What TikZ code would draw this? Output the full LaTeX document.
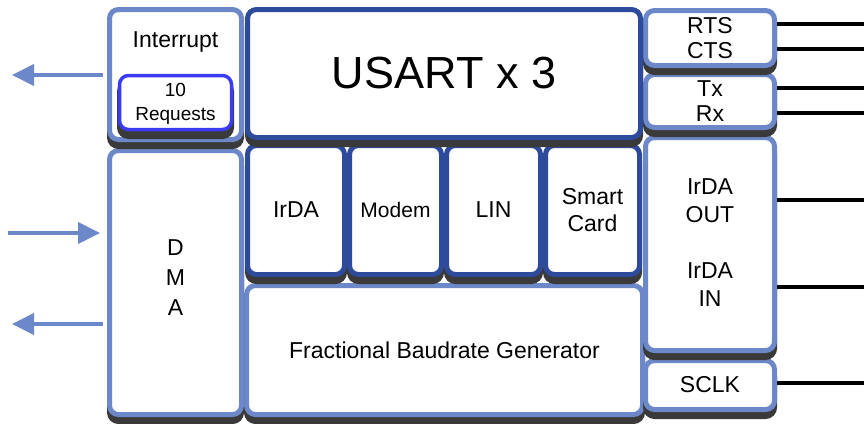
\documentclass[tikz,border=0pt]{standalone}
\usepackage{fontspec}
\setmainfont{Liberation Sans}
\usetikzlibrary{arrows.meta}
\definecolor{lightb}{HTML}{6C88C8}
\definecolor{darkb}{HTML}{2E4B9B}
\definecolor{brightb}{HTML}{3B3BF2}
\definecolor{shad}{HTML}{3A3A3A}
\tikzset{
  box/.style={rectangle, rounded corners=9pt, fill=white, line width=5pt, inner sep=0pt, align=center,
    font=\fontsize{23}{25}\selectfont, text=black,
    preaction={draw=shad, fill=shad, line width=5pt, transform canvas={yshift=-7pt}}},
  lbox/.style={box, draw=lightb},
  dbox/.style={box, draw=darkb},
  rbox/.style={box, draw=brightb, line width=3.5pt,
    preaction={draw=shad, fill=shad, line width=3.5pt, transform canvas={yshift=-7pt}}},
  lbl/.style={inner sep=0pt, align=center, font=\fontsize{23}{28}\selectfont, text=black},
  sig/.style={line width=4.5pt, black},
  arr/.style={line width=4pt, lightb, -{Triangle[length=22pt,width=21pt]}}
}
\begin{document}
\begin{tikzpicture}[x=1pt,y=-1pt]
\useasboundingbox (0,0) rectangle (864,423);
% bottom boxes first
\node[lbox, minimum width=396pt, minimum height=129pt] (frac) at (444.5,350) {Fractional Baudrate Generator};
\node[lbox, minimum width=132pt, minimum height=264pt] (dma) at (175.5,282.5) {};
\node[lbl, font=\fontsize{23}{30}\selectfont] (dmalbl) at (175.5,278) {D\\M\\A};
\node[lbox, minimum width=129pt, minimum height=49pt] (sclk) at (710,385) {SCLK};
\node[lbox, minimum width=129pt, minimum height=213pt] (irdaio) at (710,244) {};
\node[lbl] (irdaout) at (710,201) {IrDA\\OUT};
\node[lbl] (irdain) at (710,285) {IrDA\\IN};
\node[lbox, minimum width=129pt, minimum height=53pt] (txrx) at (710,101) {Tx\\Rx};
\node[lbox, minimum width=129pt, minimum height=55pt] (rts) at (710,38) {RTS\\CTS};
% middle row
\node[dbox, minimum width=97pt, minimum height=129pt] (irda) at (296,210) {IrDA};
\node[dbox, minimum width=92pt, minimum height=129pt, font=\fontsize{21}{25}\selectfont] (modem) at (395.5,210) {Modem};
\node[dbox, minimum width=94pt, minimum height=129pt] (lin) at (493.5,210) {LIN};
\node[dbox, minimum width=94pt, minimum height=129pt, font=\fontsize{23}{27}\selectfont] (smart) at (592.5,210) {Smart\\Card};
\node[dbox, minimum width=393pt, minimum height=128pt, font=\fontsize{45}{50}\selectfont] (usart) at (444,73.5) {USART x 3};
% interrupt
\node[lbox, minimum width=132pt, minimum height=130pt] (int) at (175.5,74.5) {};
\node[lbl] (intlbl) at (175.5,42) {Interrupt};
\node[rbox, minimum width=112pt, minimum height=54pt] (req) at (175.5,102.5) {};
\node[lbl, font=\fontsize{19}{24}\selectfont] (reqlbl) at (175.5,104) {10\\Requests};
% signal lines
\coordinate (o1) at (864,24);
\coordinate (o2) at (864,49);
\coordinate (o3) at (864,88);
\coordinate (o4) at (864,113);
\coordinate (o5) at (864,200);
\coordinate (o6) at (864,287);
\coordinate (o7) at (864,383);
\draw[sig] (rts.east |- o1) -- (o1);
\draw[sig] (rts.east |- o2) -- (o2);
\draw[sig] (txrx.east |- o3) -- (o3);
\draw[sig] (txrx.east |- o4) -- (o4);
\draw[sig] (irdaio.east |- o5) -- (o5);
\draw[sig] (irdaio.east |- o6) -- (o6);
\draw[sig] (sclk.east |- o7) -- (o7);
% left arrows
\coordinate (l1) at (12,75);
\coordinate (l2) at (8,233);
\coordinate (l3) at (12,324);
\draw[arr, shorten <=4pt] (int.west |- l1) -- (l1);
\draw[arr, shorten >=7pt] (l2) -- (dma.west |- l2);
\draw[arr, shorten <=4pt] (dma.west |- l3) -- (l3);
\end{tikzpicture}
\end{document}
